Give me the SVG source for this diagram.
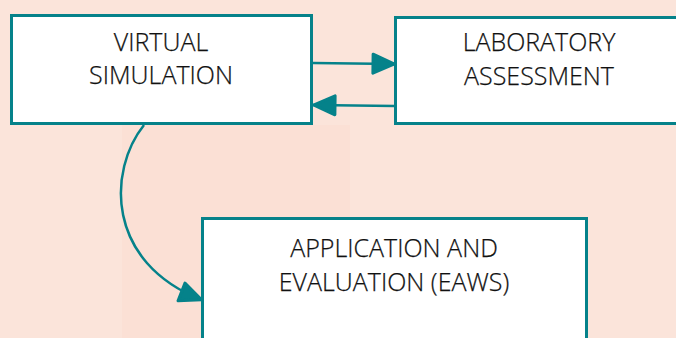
<svg xmlns="http://www.w3.org/2000/svg" width="676" height="338" viewBox="0 0 676 338">
  <defs>
    <style>
      .node rect { fill: #ffffff; stroke: #05828a; stroke-width: 3; }
      .node text { font-family: "Open Sans", "Noto Sans", sans-serif; font-weight: 300; font-size: 25px; fill: #111111; stroke: #111111; stroke-width: 0.25; text-anchor: middle; }
      .edge { fill: none; stroke: #05828a; stroke-width: 2.5; }
    </style>
    <marker id="arrow" viewBox="0 0 26 24" refX="25" refY="12" markerWidth="26" markerHeight="24" markerUnits="userSpaceOnUse" orient="auto">
      <path d="M3,2.5 L24.5,12 L3,21.5 Z" fill="#05828a" stroke="#05828a" stroke-width="3" stroke-linejoin="round"/>
    </marker>
  </defs>

  <!-- backdrop -->
  <rect x="0" y="0" width="676" height="338" fill="#fbe4da"/>
  <rect x="122" y="125" width="228" height="213" fill="#fbe0d5"/>

  <!-- connectors -->
  <g id="edges">
    <path class="edge" d="M313,63 L395,64" marker-end="url(#arrow)"/>
    <path class="edge" d="M395,106 L313,105" marker-end="url(#arrow)"/>
    <path class="edge" d="M144,125 C108,170 105,262 202,300" marker-end="url(#arrow)"/>
  </g>

  <g id="virtual-simulation" class="node">
    <rect x="11.5" y="15.5" width="300" height="108"/>
    <text x="161" y="51">VIRTUAL</text>
    <text x="161" y="84">SIMULATION</text>
  </g>

  <g id="laboratory-assessment" class="node">
    <rect x="395.5" y="17.5" width="300" height="106"/>
    <text x="539" y="51">LABORATORY</text>
    <text x="539" y="85">ASSESSMENT</text>
  </g>

  <g id="application-evaluation" class="node">
    <rect x="202.5" y="218.5" width="384" height="140"/>
    <text x="394" y="257">APPLICATION AND</text>
    <text x="394" y="291">EVALUATION (EAWS)</text>
  </g>
</svg>
